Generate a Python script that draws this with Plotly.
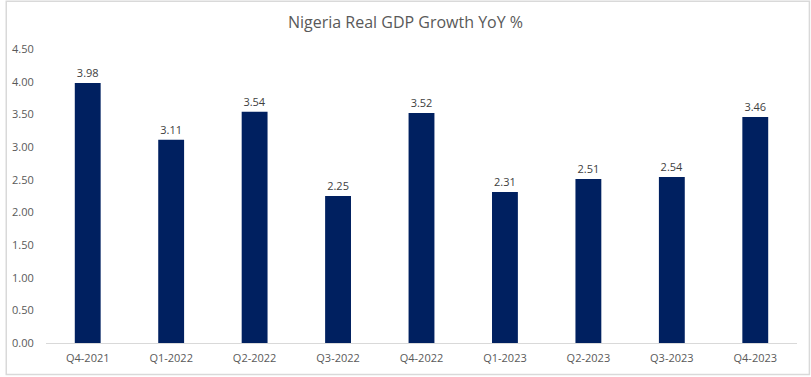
import plotly.graph_objects as go

categories = ["Q4-2021", "Q1-2022", "Q2-2022", "Q3-2022", "Q4-2022",
              "Q1-2023", "Q2-2023", "Q3-2023", "Q4-2023"]
values = [3.98, 3.11, 3.54, 2.25, 3.52, 2.31, 2.51, 2.54, 3.46]
y_ticks = [0, 0.5, 1.0, 1.5, 2.0, 2.5, 3.0, 3.5, 4.0, 4.5]

W, H = 811, 377
ml, mr, mt, mb = 41, 14, 49, 33
pw, ph = W - ml - mr, H - mt - mb
FONT = "Open Sans, sans-serif"

fig = go.Figure(go.Bar(
    x=categories, y=values,
    marker=dict(color="#002060", line=dict(width=0)),
    text=[f"{v:.2f}" for v in values],
    textposition="outside",
    textfont=dict(family=FONT, size=11, color="#404040"),
    cliponaxis=False,
))

fig.update_layout(
    width=W, height=H,
    margin=dict(l=ml, r=mr, t=mt, b=mb),
    paper_bgcolor="white", plot_bgcolor="white",
    bargap=0.69,
    showlegend=False,
    title=dict(text="Nigeria Real GDP Growth YoY %", x=0.5, xanchor="center",
               y=1 - 22 / H, yanchor="middle",
               font=dict(family=FONT, size=16, color="#595959")),
    xaxis=dict(showgrid=False, showline=True, linecolor="#d9d9d9", linewidth=1,
               tickfont=dict(family=FONT, size=11, color="#595959"),
               ticks="outside", ticklen=5, tickcolor="rgba(0,0,0,0)"),
    yaxis=dict(range=[0, 4.5], tickvals=y_ticks,
               ticktext=[f"{t:.2f}" for t in y_ticks],
               showgrid=False, zeroline=False, showline=False,
               tickfont=dict(family=FONT, size=11, color="#595959"),
               ticks="outside", ticklen=9, tickcolor="rgba(0,0,0,0)"),
    shapes=[dict(type="rect", xref="paper", yref="paper",
                 x0=(1 - ml) / pw, x1=(W - 1.5 - ml) / pw,
                 y0=-(H - 1.5 - (H - mb)) / ph, y1=(H - mb - 1) / ph,
                 line=dict(color="#d9d9d9", width=1.5), fillcolor="rgba(0,0,0,0)",
                 layer="below")],
)

fig.write_html("out.html", config={"displayModeBar": False},
               post_script="document.body.style.margin='0';document.body.style.padding='0';document.body.style.overflow='hidden';")
